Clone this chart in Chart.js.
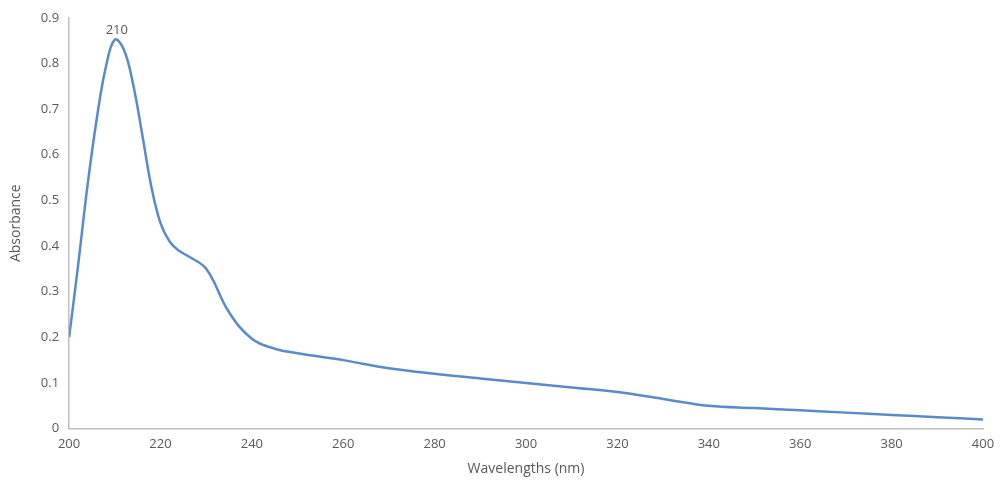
<!DOCTYPE html>
<html>
<head>
<meta charset="utf-8">
<script src="https://cdn.jsdelivr.net/npm/chart.js@4/dist/chart.umd.min.js"></script>
<style>
  html, body { margin: 0; padding: 0; background: #fff; }
  #wrap { width: 1003px; height: 484px; }
</style>
</head>
<body>
<div id="wrap"><canvas id="specChart"></canvas></div>
<script>
// absorbance spectrum
const wavelengths = [200, 202, 204, 206, 208, 210, 212, 214, 216, 218, 220, 222, 224, 226, 230, 235, 240, 245, 250, 260, 270, 280, 290, 300, 310, 320, 330, 340, 350, 360, 370, 380, 390, 400];
const absorbance  = [0.20, 0.36, 0.53, 0.675, 0.79, 0.852, 0.83, 0.755, 0.645, 0.53, 0.45, 0.41, 0.39, 0.378, 0.35, 0.255, 0.197, 0.175, 0.165, 0.15, 0.132, 0.12, 0.11, 0.10, 0.09, 0.08, 0.065, 0.05, 0.045, 0.04, 0.035, 0.03, 0.025, 0.02];
const xTicks = [200, 220, 240, 260, 280, 300, 320, 340, 360, 380, 400];
const yTicks = [0, 0.1, 0.2, 0.3, 0.4, 0.5, 0.6, 0.7, 0.8, 0.9];
const peakLabel = '210';
const peakIndex = 5;

const textColor = '#595959';
const fontFamily = "'Open Sans', 'Noto Sans', sans-serif";

// draws the "210" label over the peak
const peakLabelPlugin = {
    id: 'peakLabel',
    afterDatasetsDraw(chart) {
        const pt = chart.getDatasetMeta(0).data[peakIndex];
        const ctx = chart.ctx;
        ctx.save();
        ctx.fillStyle = textColor;
        ctx.font = '13px ' + fontFamily;
        ctx.textAlign = 'center';
        ctx.textBaseline = 'bottom';
        ctx.fillText(peakLabel, pt.x + 2, pt.y - 3);
        ctx.restore();
    }
};

const ctx = document.getElementById('specChart').getContext('2d');
new Chart(ctx, {
    type: 'line',
    data: {
        datasets: [{
            data: wavelengths.map((w, i) => ({ x: w, y: absorbance[i] })),
            borderColor: '#5B8AC9',
            borderWidth: 2.5,
            pointRadius: 0,
            tension: 0.4,
            fill: false
        }]
    },
    options: {
        responsive: true,
        maintainAspectRatio: false,
        animation: false,
        layout: { padding: { top: 8, right: 20, bottom: 3, left: 4 } },
        plugins: {
            legend: { display: false },
            tooltip: { enabled: false }
        },
        scales: {
            x: {
                type: 'linear',
                min: 200,
                max: 400,
                afterBuildTicks: axis => { axis.ticks = xTicks.map(v => ({ value: v })); },
                grid: { display: false, drawTicks: false },
                border: { color: '#BFBFBF', width: 1.5 },
                ticks: { color: textColor, font: { family: fontFamily, size: 13 }, padding: 8, maxRotation: 0 },
                title: { display: true, text: 'Wavelengths (nm)', color: textColor, font: { family: fontFamily, size: 14 }, padding: { top: 0 } }
            },
            y: {
                min: 0,
                max: 0.9,
                afterBuildTicks: axis => { axis.ticks = yTicks.map(v => ({ value: v })); },
                grid: { display: false, drawTicks: false },
                border: { color: '#BFBFBF', width: 1.5 },
                ticks: { color: textColor, font: { family: fontFamily, size: 13 }, padding: 10 },
                title: { display: true, text: 'Absorbance', color: textColor, font: { family: fontFamily, size: 14 }, padding: { bottom: 6 } }
            }
        }
    },
    plugins: [peakLabelPlugin]
});
</script>
</body>
</html>
